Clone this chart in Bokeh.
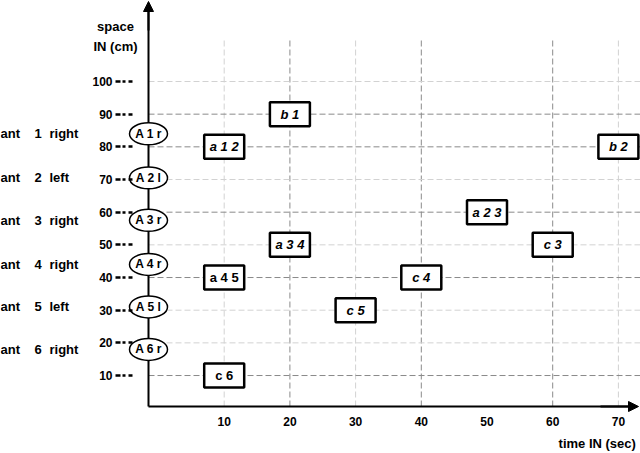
from bokeh.plotting import figure
from bokeh.models import (Range1d, FixedTicker, ColumnDataSource, LinearAxis, Arrow, NormalHead)
from bokeh.core.properties import value
from bokeh.embed import file_html
from bokeh.resources import INLINE

# ---------------- data ----------------
time_ticks = [10, 20, 30, 40, 50, 60, 70]
space_ticks = [10, 20, 30, 40, 50, 60, 70, 80, 90, 100]

ant_numbers = ["1", "2", "3", "4", "5", "6"]
ant_sides = ["right", "left", "right", "right", "left", "right"]
ant_tags = ["A 1 r", "A 2 l", "A 3 r", "A 4 r", "A 5 l", "A 6 r"]
ant_space = [84, 70.5, 57.5, 44, 31, 18]

box_labels = ["b 1", "a 1 2", "b 2", "a 2 3", "c 3", "a 3 4", "a 4 5", "c 4", "c 5", "c 6"]
box_time = [20, 10, 70, 50, 60, 20, 10, 40, 30, 10]
box_space = [90, 80, 80, 60, 50, 50, 40, 40, 30, 10]
upright_boxes = {"a 4 5", "c 6"}

vgrid_strong = [20, 40, 60]
vgrid_faint = [10, 30, 70]
hgrid_strong = [90, 80, 60, 40, 10]
hgrid_faint = [100, 70, 50, 30, 20]

# ---------------- layout helpers (canvas pixels -> data) ----------------
PX0, SX = 158.0, 6.57
PY0, SY = 407.7, 3.267


def xd(px):
    return (px - PX0) / SX


def yd(py):
    return (PY0 - py) / SY


W, H = 640, 453
FONT = "Liberation Sans"

p = figure(width=W, height=H,
           x_range=Range1d(xd(0), xd(W)), y_range=Range1d(yd(H), yd(0)),
           x_axis_location=None, y_axis_location=None,
           min_border_left=0, min_border_right=0, min_border_top=0, min_border_bottom=0,
           output_backend="svg", toolbar_location=None)
p.grid.visible = False
p.outline_line_color = None
p.background_fill_color = "white"
p.border_fill_color = "white"

axis_x = xd(148)
axis_y = yd(406)

# grid lines
p.segment(x0=vgrid_faint, y0=[axis_y] * len(vgrid_faint), x1=vgrid_faint,
          y1=[yd(38)] * len(vgrid_faint), line_color="#d2d2d2", line_dash="6 3", line_width=1)
p.segment(x0=vgrid_strong, y0=[axis_y] * len(vgrid_strong), x1=vgrid_strong,
          y1=[yd(38)] * len(vgrid_strong), line_color="#8a8a8a", line_dash="6 3", line_width=1)
p.segment(x0=[axis_x] * len(hgrid_faint), y0=hgrid_faint, x1=[xd(W)] * len(hgrid_faint),
          y1=hgrid_faint, line_color="#d2d2d2", line_dash="6 3", line_width=1)
p.segment(x0=[axis_x] * len(hgrid_strong), y0=hgrid_strong, x1=[xd(W)] * len(hgrid_strong),
          y1=hgrid_strong, line_color="#8a8a8a", line_dash="6 3", line_width=1)

# axis lines with arrow heads
p.segment(x0=[axis_x, axis_x], y0=[axis_y, axis_y], x1=[axis_x, xd(630)], y1=[yd(6), axis_y],
          line_color="black", line_width=2)
p.add_layout(Arrow(end=NormalHead(size=10, fill_color="black", line_color="black"),
                   x_start=axis_x, y_start=yd(30), x_end=axis_x, y_end=yd(1),
                   line_color="black", line_width=2))
p.add_layout(Arrow(end=NormalHead(size=10, fill_color="black", line_color="black"),
                   x_start=xd(600), y_start=axis_y, x_end=xd(638), y_end=axis_y,
                   line_color="black", line_width=2))

# ants
n = len(ant_space)
ants = ColumnDataSource(dict(x=[axis_x] * n, y=ant_space, tag=ant_tags,
                             num=ant_numbers, side=ant_sides, ant=["ant"] * n))
p.ellipse(x="x", y="y", width=38, height=22, width_units="screen", height_units="screen",
          fill_color="white", line_color="black", line_width=1.5, source=ants)
p.text(x="x", y="y", text="tag", text_align="center", text_baseline="middle",
       text_font=value(FONT), text_font_style="bold", text_font_size="12px",
       text_color="black", source=ants)

for col, px in (("ant", 0), ("num", 34), ("side", 49)):
    p.text(x=xd(px), y="y", text=col, source=ants, text_align="left",
           text_baseline="middle", text_font=value(FONT),
           text_font_style="bold", text_font_size="13px", text_color="black")

# boxes
boxes = ColumnDataSource(dict(x=box_time, y=box_space, label=box_labels,
                              style=["bold" if b in upright_boxes else "bold italic"
                                     for b in box_labels]))
p.rect(x="x", y="y", width=40, height=24, width_units="screen", height_units="screen",
       fill_color="white", line_color="black", line_width=2.5, source=boxes)
p.text(x="x", y="y", text="label", text_align="center", text_baseline="middle",
       text_font=value(FONT), text_font_style="style", text_font_size="13px",
       text_color="black", source=boxes)

# y axis (fixed at the drawn vertical axis); dashed ticks drawn from the outer end
yax = LinearAxis(fixed_location=axis_x, ticker=FixedTicker(ticks=space_ticks))
yax.axis_line_color = None
yax.major_tick_in = 0
yax.major_tick_out = 33
yax.major_tick_line_width = 2.5
yax.major_tick_line_color = "black"
yax.major_tick_line_dash = "5 2 3 3 4 20"
yax.minor_tick_line_color = None
yax.major_label_standoff = 3
yax.major_label_text_font = FONT
yax.major_label_text_font_style = "bold"
yax.major_label_text_font_size = "12px"
yax.major_label_text_color = "black"
p.add_layout(yax, "left")

# x axis (fixed at the drawn horizontal axis)
xax = LinearAxis(fixed_location=axis_y, ticker=FixedTicker(ticks=time_ticks))
xax.axis_line_color = None
xax.major_tick_in = 0
xax.major_tick_out = 0
xax.major_tick_line_color = None
xax.minor_tick_line_color = None
xax.major_label_standoff = 10
xax.major_label_text_font = FONT
xax.major_label_text_font_style = "bold"
xax.major_label_text_font_size = "12px"
xax.major_label_text_color = "black"
p.add_layout(xax, "below")

# axis titles
titles = ColumnDataSource(dict(x=[xd(115), xd(115)], y=[yd(26), yd(46)], t=["space", "IN (cm)"]))
p.text(x="x", y="y", text="t", source=titles, text_align="center", text_baseline="middle",
       text_font=value(FONT), text_font_style="bold", text_font_size="13px", text_color="black")
p.text(x=[xd(639)], y=[yd(443)], text=["time  IN (sec)"], text_align="right",
       text_baseline="middle", text_font=value(FONT), text_font_style="bold",
       text_font_size="13px", text_color="black")

open("out.html", "w").write(file_html(p, INLINE))
